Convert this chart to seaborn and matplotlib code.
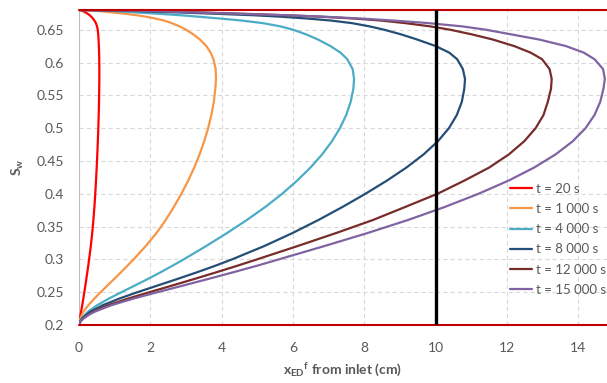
import matplotlib
matplotlib.use("Agg")
import matplotlib.pyplot as plt
import pandas as pd
import seaborn as sns

# Water saturation levels at which each front position is tabulated
sw = [0.200, 0.203, 0.206, 0.210, 0.215, 0.220, 0.230, 0.240, 0.250, 0.260,
      0.270, 0.280, 0.290, 0.300, 0.320, 0.340, 0.360, 0.380, 0.400, 0.420,
      0.440, 0.460, 0.480, 0.500, 0.520, 0.540, 0.560, 0.575, 0.590, 0.605,
      0.615, 0.625, 0.635, 0.643, 0.650, 0.655, 0.660, 0.664, 0.667, 0.670,
      0.672, 0.674, 0.6755, 0.677, 0.678, 0.679, 0.6797, 0.680]

# Front position x_ED^f (cm) at each saturation level, one list per time
x_t20 = [0.000, 0.006, 0.014, 0.026, 0.042, 0.058, 0.090, 0.120, 0.150, 0.178,
         0.205, 0.232, 0.258, 0.283, 0.330, 0.370, 0.404, 0.432, 0.456, 0.477,
         0.496, 0.513, 0.528, 0.541, 0.552, 0.561, 0.567, 0.570, 0.570, 0.567,
         0.563, 0.557, 0.548, 0.538, 0.525, 0.505, 0.475, 0.430, 0.390, 0.340,
         0.300, 0.250, 0.205, 0.155, 0.120, 0.080, 0.043, 0.000]
x_t1000 = [0.000, 0.007, 0.017, 0.040, 0.078, 0.120, 0.260, 0.425, 0.605, 0.793,
           0.983, 1.170, 1.353, 1.530, 1.865, 2.170, 2.430, 2.660, 2.870, 3.060,
           3.230, 3.380, 3.510, 3.620, 3.710, 3.780, 3.820, 3.840, 3.830, 3.770,
           3.690, 3.570, 3.390, 3.200, 3.000, 2.820, 2.600, 2.380, 2.140, 1.860,
           1.620, 1.330, 1.070, 0.800, 0.620, 0.420, 0.220, 0.000]
x_t4000 = [0.000, 0.012, 0.035, 0.075, 0.160, 0.245, 0.505, 0.830, 1.190, 1.560,
           1.925, 2.275, 2.610, 2.935, 3.555, 4.145, 4.705, 5.225, 5.695, 6.115,
           6.490, 6.815, 7.090, 7.315, 7.490, 7.615, 7.690, 7.710, 7.670, 7.520,
           7.330, 7.050, 6.700, 6.360, 6.000, 5.650, 5.150, 4.550, 3.950, 3.300,
           2.850, 2.300, 1.850, 1.400, 1.080, 0.740, 0.410, 0.000]
x_t8000 = [0.000, 0.015, 0.040, 0.090, 0.195, 0.310, 0.660, 1.115, 1.640, 2.195,
           2.750, 3.290, 3.805, 4.290, 5.180, 5.980, 6.710, 7.390, 8.030, 8.630,
           9.180, 9.660, 10.060, 10.370, 10.590, 10.730, 10.800, 10.820, 10.760, 10.600,
           10.380, 10.000, 9.480, 9.020, 8.550, 8.150, 7.650, 7.050, 6.400, 5.600,
           4.900, 3.950, 3.200, 2.400, 1.850, 1.250, 0.700, 0.000]
x_t12000 = [0.000, 0.020, 0.045, 0.115, 0.250, 0.385, 0.810, 1.360, 1.975, 2.605,
            3.225, 3.830, 4.420, 4.990, 6.110, 7.200, 8.240, 9.150, 10.050, 10.800,
            11.500, 12.050, 12.480, 12.800, 13.020, 13.140, 13.230, 13.250, 13.190, 12.980,
            12.660, 12.200, 11.600, 11.000, 10.400, 9.850, 9.150, 8.450, 7.700, 6.700,
            5.800, 4.750, 3.850, 2.950, 2.300, 1.600, 0.850, 0.000]
x_t15000 = [0.000, 0.020, 0.050, 0.130, 0.260, 0.430, 0.900, 1.510, 2.200, 2.910,
            3.610, 4.300, 4.970, 5.600, 6.860, 8.080, 9.220, 10.260, 11.200, 12.040,
            12.760, 13.360, 13.840, 14.200, 14.450, 14.610, 14.700, 14.740, 14.690, 14.450,
            14.150, 13.650, 12.900, 12.100, 11.400, 10.750, 9.800, 8.800, 7.900, 6.800,
            5.800, 4.600, 3.700, 2.800, 2.200, 1.500, 0.750, 0.000]

labels = ["t = 20 s", "t = 1 000 s", "t = 4 000 s",
          "t = 8 000 s", "t = 12 000 s", "t = 15 000 s"]
series = [x_t20, x_t1000, x_t4000, x_t8000, x_t12000, x_t15000]
colors = ["#FF0000", "#F79646", "#4BACC6", "#254E77", "#772C2A", "#8064A2"]

sw_lower = 0.2     # irreducible water saturation
sw_upper = 0.68    # maximum water saturation
core_length = 10   # cm

x_ticks = [0, 2, 4, 6, 8, 10, 12, 14]
y_ticks = [0.2, 0.25, 0.3, 0.35, 0.4, 0.45, 0.5, 0.55, 0.6, 0.65]
y_tick_labels = ["0.2", "0.25", "0.3", "0.35", "0.4", "0.45", "0.5", "0.55", "0.6", "0.65"]

df = pd.concat(
    [pd.DataFrame({"x": xs, "Sw": sw, "time": lab}) for xs, lab in zip(series, labels)],
    ignore_index=True,
)

sns.set_style("white")
plt.rcParams["font.family"] = ["Lato", "DejaVu Sans"]
plt.rcParams["mathtext.fontset"] = "custom"
plt.rcParams["mathtext.rm"] = "Lato"
plt.rcParams["mathtext.bf"] = "Lato:bold"
plt.rcParams["mathtext.it"] = "Lato:italic"

text_gray = "#595959"

fig = plt.figure(figsize=(6.07, 3.83), dpi=100)
ax = fig.add_axes([79 / 607, 58 / 383, 528 / 607, 315 / 383])

sns.lineplot(data=df, x="x", y="Sw", hue="time", hue_order=labels,
             palette=colors, sort=False, estimator=None, linewidth=1.6,
             ax=ax, zorder=3)

ax.axhline(sw_lower, color="#C00000", linewidth=1.5, zorder=4, clip_on=False)
ax.axhline(sw_upper, color="#C00000", linewidth=1.5, zorder=4, clip_on=False)
ax.axvline(core_length, color="black", linewidth=2.4, zorder=5)

ax.set_xlim(0, 14.8)
ax.set_ylim(sw_lower, sw_upper)
ax.set_xticks(x_ticks)
ax.set_xticklabels([str(v) for v in x_ticks])
ax.set_yticks(y_ticks)
ax.set_yticklabels(y_tick_labels)
ax.tick_params(axis="both", length=0, labelsize=10, labelcolor=text_gray)
ax.tick_params(axis="x", pad=12)
ax.tick_params(axis="y", pad=11)

ax.grid(True, color="#D9D9D9", linewidth=0.8, linestyle=(0, (3.75, 2.8)), zorder=0)
for side in ["top", "right", "bottom"]:
    ax.spines[side].set_visible(False)
ax.spines["left"].set_color("#BFBFBF")
ax.spines["left"].set_linewidth(0.8)

ax.set_xlabel(r"$\mathbf{x}_{\mathbf{ED}}{}^{\mathbf{f}}$ from inlet (cm)",
              fontsize=10, fontweight="bold", color=text_gray, labelpad=6)
ax.set_ylabel(r"$\mathbf{S}_{\mathbf{w}}$", fontsize=10, fontweight="bold",
              color=text_gray)
ax.yaxis.set_label_coords(-0.1, 0.5)

leg = ax.legend(loc="upper left", bbox_to_anchor=(0.816, 0.451), frameon=False,
                fontsize=9.5, handlelength=1.7, handletextpad=0.25,
                labelspacing=0.62, borderpad=0, borderaxespad=0)
for txt in leg.get_texts():
    txt.set_color(text_gray)
for line in leg.get_lines():
    line.set_linewidth(1.6)

fig.savefig("out.png", dpi=100)
